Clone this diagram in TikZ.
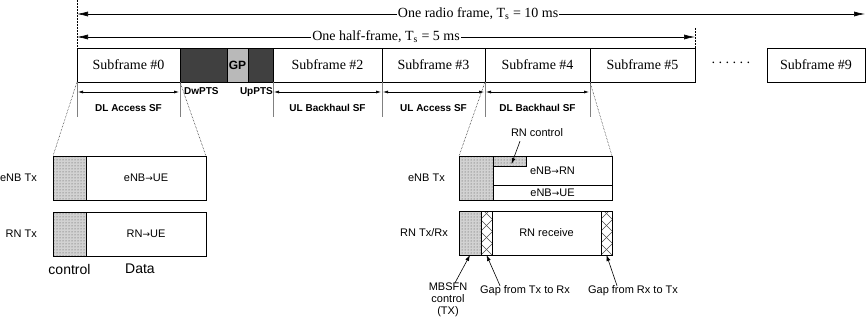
\documentclass[tikz,border=0pt]{standalone}
\usepackage{fontspec}
\setmainfont{Liberation Serif}
\setsansfont{Liberation Sans}
\newfontfamily\arrfont{DejaVu Sans}
\newcommand{\toarr}{{\arrfont\fontsize{9}{9}\selectfont →}}
\usetikzlibrary{arrows.meta,positioning,patterns}

\begin{document}
\begin{tikzpicture}[x=1pt,y=-1pt,
    sf/.style={draw,line width=0.8pt,inner sep=0pt,outer sep=0pt,minimum height=34pt,anchor=north west,font=\fontsize{14}{14}\selectfont},
    sp/.style={sf,fill=black!75},
    lbl/.style={font=\sffamily\bfseries\fontsize{10}{10}\selectfont,inner sep=0pt},
    txt/.style={font=\sffamily\fontsize{11}{12}\selectfont,inner sep=0pt},
    blk/.style={draw,line width=0.8pt,inner sep=0pt,outer sep=0pt,anchor=north west,font=\sffamily\fontsize{11}{11}\selectfont},
    ctl/.style={blk,preaction={fill=gray!35},pattern=dots,pattern color=black!70},
    gap/.style={blk,path picture={
      \foreach \k in {-1,...,4} {
        \draw[black!70,line width=0.5pt] ([yshift={\k*12pt}]path picture bounding box.south west) -- ++(60pt,60pt);
        \draw[black!70,line width=0.5pt] ([yshift={\k*12pt}]path picture bounding box.south east) -- ++(-60pt,60pt);
      }}},
    big/.style={{Latex[length=11pt,width=5pt]}-{Latex[length=11pt,width=5pt]},line width=0.6pt},
    small/.style={{Latex[length=5pt,width=3pt]}-{Latex[length=5pt,width=3pt]},line width=0.6pt,shorten <=1pt,shorten >=1pt},
    note/.style={-{Latex[length=6pt,width=4pt]},line width=0.6pt},
    proj/.style={densely dotted,line width=0.5pt},
    sep/.style={gray,line width=0.8pt}]
  \useasboundingbox (0,0) rectangle (867,334);

  % subframe row
  \node[sf,minimum width=103pt] (sf0) at (77,48) {Subframe \#0};
  \node[sp,minimum width=47pt,right=0pt of sf0] (dw) {};
  \node[sf,fill=gray!55,minimum width=21pt,right=0pt of dw,font=\sffamily\bfseries\fontsize{12}{12}\selectfont] (gp) {\raisebox{-4pt}{GP}};
  \node[sp,minimum width=25pt,right=0pt of gp] (up) {};
  \node[sf,minimum width=109pt,right=0pt of up] (sf2) {Subframe \#2};
  \node[sf,minimum width=103pt,right=0pt of sf2] (sf3) {Subframe \#3};
  \node[sf,minimum width=105pt,right=0pt of sf3] (sf4) {Subframe \#4};
  \node[sf,minimum width=105pt,right=0pt of sf4] (sf5) {Subframe \#5};
  \node[sf,draw=none,minimum width=72pt,right=0pt of sf5] (more) {·\,·\,·\,·\,·\,·};
  \node[sf,minimum width=98pt,right=0pt of more] (sf9) {Subframe \#9};

  % frame arrows
  \coordinate (t0) at (77,0);
  \coordinate (t5) at (695,28);
  \draw[proj] (t0) -- (sf0.north west);
  \draw[proj] (t5) -- (sf5.north east);
  \coordinate (r0) at (77,14);
  \coordinate (r1) at (sf9.east |- r0);
  \coordinate (h0) at (77,37);
  \coordinate (h1) at (sf5.east |- h0);
  \draw[big] (r0) -- node[pos=0.509,fill=white,inner sep=1pt,font=\fontsize{14}{14}\selectfont] (rlab) {One radio frame, T\textsubscript{s} = 10 ms} (r1);
  \draw[big] (h0) -- node[fill=white,inner sep=1pt,font=\fontsize{14}{14}\selectfont] (hlab) {One half-frame, T\textsubscript{s} = 5 ms} (h1);

  % subframe roles
  \foreach \n/\t in {sf0/DL Access SF,sf2/UL Backhaul SF,sf3/UL Access SF,sf4/DL Backhaul SF} {
    \draw[small] ([yshift=-10pt]\n.south west) -- ([yshift=-10pt]\n.south east);
    \node[lbl,below=22pt of \n] (\n-lbl) {\t};
    \draw[sep] (\n.south west) -- ++(0,35);
    \draw[sep] (\n.south east) -- ++(0,35);
  }
  \node[lbl,anchor=north west] (dwl) at ([xshift=4pt,yshift=-5pt]dw.south west) {DwPTS};
  \node[lbl,anchor=north east] (upl) at ([yshift=-5pt]up.south east) {UpPTS};

  % access subframe detail
  \node[ctl,minimum width=33pt,minimum height=44pt] (lc1) at (53,156) {};
  \node[blk,minimum width=120pt,minimum height=44pt,right=0pt of lc1] (ld1) {eNB\toarr UE};
  \node[ctl,minimum width=33pt,minimum height=44pt] (lc2) at (53,212) {};
  \node[blk,minimum width=120pt,minimum height=44pt,right=0pt of lc2] (ld2) {RN\toarr UE};
  \node[txt,left=16pt of lc1] (lenb) {eNB Tx};
  \node[txt,left=16pt of lc2] (lrn) {RN Tx};
  \node[txt,font=\sffamily\fontsize{14}{14}\selectfont,below=8pt of lc2] (lctl) {control};
  \node[txt,font=\sffamily\fontsize{14}{14}\selectfont,below=8pt of ld2,xshift=-6pt] (ldat) {Data};
  \draw[proj] (sf0.south west) -- (lc1.north west);
  \draw[proj] (sf0.south east) -- (ld1.north east);

  % backhaul subframe detail
  \node[ctl,minimum width=34pt,minimum height=44pt] (rc1) at (459,156) {};
  \node[blk,minimum width=119pt,minimum height=29pt] (rnrn) at (493,156) {eNB\toarr RN};
  \node[blk,minimum width=119pt,minimum height=15pt,below=0pt of rnrn] (rnue) {eNB\toarr UE};
  \node[ctl,minimum width=33pt,minimum height=10pt] (rnc) at (493,156) {};
  \node[ctl,minimum width=22pt,minimum height=44pt] (rc2) at (459,211) {};
  \node[gap,minimum width=11pt,minimum height=44pt,right=0pt of rc2] (rg1) {};
  \node[blk,minimum width=109pt,minimum height=44pt,right=0pt of rg1] (rrx) {RN receive};
  \node[gap,minimum width=11pt,minimum height=44pt,right=0pt of rrx] (rg2) {};
  \node[txt,left=14pt of rc1] (renb) {eNB Tx};
  \node[txt,left=11pt of rc2] (rrn) {RN Tx/Rx};
  \draw[proj] (sf4.south west) -- (rc1.north west);
  \draw[proj] (sf4.south east) -- (rnrn.north east);

  % annotations
  \node[txt] (rnclab) at (537,133) {RN control};
  \node[txt,align=center] (mbsfn) at (448,300) {MBSFN\\control\\(TX)};
  \node[txt] (gtr) at (525,291) {Gap from Tx to Rx};
  \node[txt] (grt) at (633,291) {Gap from Rx to Tx};
  \draw[note] ([xshift=-17pt,yshift=-4pt]rnclab.south) -- ([xshift=2pt,yshift=-3pt]rnc.center);
  \draw[note] ([xshift=7pt]mbsfn.north) -- (rc2.south);
  \draw[note] ([xshift=-25pt]gtr.north) -- (rg1.south);
  \draw[note] ([xshift=-16pt]grt.north) -- (rg2.south);
\end{tikzpicture}
\end{document}
